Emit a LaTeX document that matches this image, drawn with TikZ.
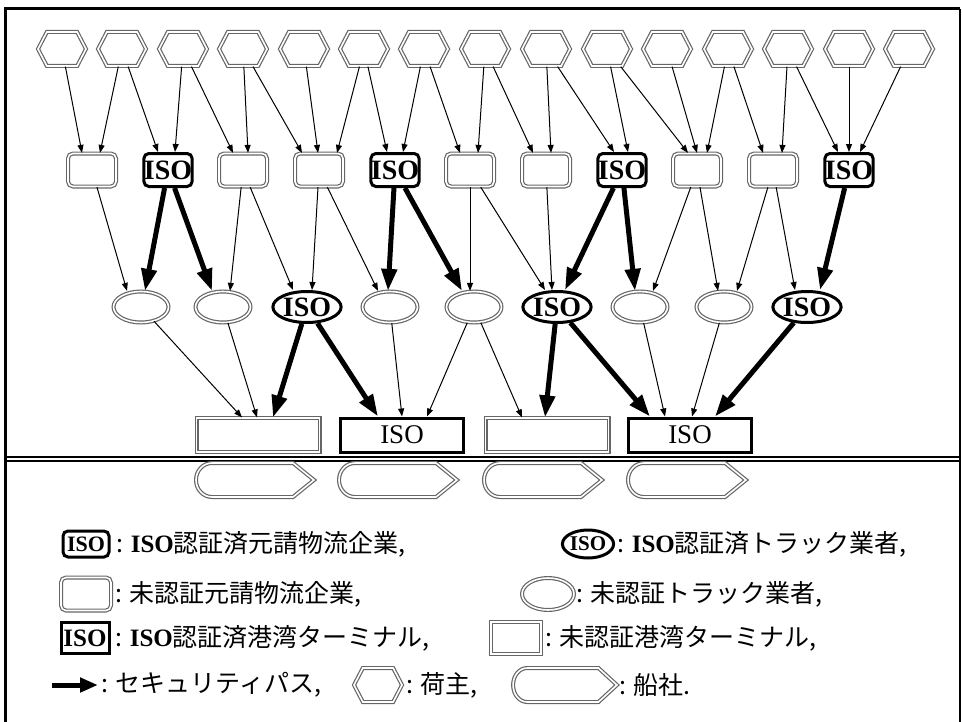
\documentclass[tikz,border=0pt]{standalone}
\usepackage{fontspec}
\setmainfont{Liberation Serif}
\newfontfamily\cjk{Noto Sans CJK JP}
\usetikzlibrary{arrows.meta,shapes.geometric,shapes.symbols}

\newlength{\du}
\setlength{\du}{0.5pt}

\definecolor{dialinecolor}{rgb}{0.40,0.40,0.40}

\tikzset{
  dbl/.style={draw=dialinecolor, line width=0.6pt, double=white, double distance=0.8pt},
  isoline/.style={draw=black, line width=1.5pt},
  shipper/.style={shape=signal, signal to=east and west, signal pointer angle=125,
    minimum width=48\du, minimum height=34\du, inner sep=0pt, dbl},
  forwarder/.style={rectangle, rounded corners=5\du, minimum width=48\du, minimum height=33\du,
    inner sep=0pt, font=\bfseries\fontsize{14}{15}\selectfont},
  trucker/.style={ellipse, minimum width=55\du, minimum height=31\du,
    inner sep=0pt, font=\bfseries\fontsize{14}{15}\selectfont},
  terminal/.style={rectangle, minimum width=123\du, minimum height=34\du,
    inner sep=0pt, font=\fontsize{13.5}{15}\selectfont},
  flow/.style={-{Triangle[length=4pt,width=3pt]}, line width=0.5pt},
  secpath/.style={-{Triangle[length=11pt,width=7.5pt]}, line width=2.5pt},
  legtext/.style={anchor=west, inner sep=0pt, font=\cjk\fontsize{12.5}{15}\selectfont},
  ship/.pic={
    \draw[dbl] (-43\du,-17\du) -- (38\du,-17\du) -- (59\du,0\du) -- (38\du,17\du) -- (-43\du,17\du)
      arc[start angle=90, end angle=270, x radius=16\du, y radius=17\du] -- cycle;
  }
}

\begin{document}
\begin{tikzpicture}
\pgftransformxscale{1.000000}
\pgftransformyscale{-1.000000}
\useasboundingbox (0\du,0\du) rectangle (963\du,722\du);

% frame
\draw[line width=3\du] (5\du,722\du) -- (5\du,9\du) -- (960\du,9\du);
\draw[line width=2\du] (960\du,9\du) -- (960\du,722\du);

% shippers
\node[shipper] (h1) at (62\du,49\du) {};
\node[shipper] (h2) at (122\du,49\du) {};
\node[shipper] (h3) at (183\du,49\du) {};
\node[shipper] (h4) at (243\du,49\du) {};
\node[shipper] (h5) at (304\du,49\du) {};
\node[shipper] (h6) at (364\du,49\du) {};
\node[shipper] (h7) at (424\du,49\du) {};
\node[shipper] (h8) at (485\du,49\du) {};
\node[shipper] (h9) at (546\du,49\du) {};
\node[shipper] (h10) at (607\du,49\du) {};
\node[shipper] (h11) at (667\du,49\du) {};
\node[shipper] (h12) at (728\du,49\du) {};
\node[shipper] (h13) at (788\du,49\du) {};
\node[shipper] (h14) at (849\du,49\du) {};
\node[shipper] (h15) at (909\du,49\du) {};

% forwarders
\node[forwarder, dbl] (b1) at (92\du,170\du) {};
\node[forwarder, isoline] (b2) at (168\du,170\du) {ISO};
\node[forwarder, dbl] (b3) at (243\du,170\du) {};
\node[forwarder, dbl] (b4) at (319\du,170\du) {};
\node[forwarder, isoline] (b5) at (395\du,170\du) {ISO};
\node[forwarder, dbl] (b6) at (470\du,170\du) {};
\node[forwarder, dbl] (b7) at (546\du,170\du) {};
\node[forwarder, isoline] (b8) at (622\du,170\du) {ISO};
\node[forwarder, dbl] (b9) at (697\du,170\du) {};
\node[forwarder, dbl] (b10) at (773\du,170\du) {};
\node[forwarder, isoline] (b11) at (849\du,170\du) {ISO};

% truckers
\node[trucker, dbl] (e1) at (141\du,307\du) {};
\node[trucker, dbl] (e2) at (223\du,307\du) {};
\node[trucker, isoline] (e3) at (307\du,307\du) {ISO};
\node[trucker, dbl] (e4) at (390\du,307\du) {};
\node[trucker, dbl] (e5) at (474\du,307\du) {};
\node[trucker, isoline] (e6) at (557\du,307\du) {ISO};
\node[trucker, dbl] (e7) at (640\du,307\du) {};
\node[trucker, dbl] (e8) at (724\du,307\du) {};
\node[trucker, isoline] (e9) at (807\du,307\du) {ISO};

% port terminals
\node[terminal, dbl] (t1) at (258\du,435\du) {};
\node[terminal, isoline] (t2) at (402\du,435\du) {ISO};
\node[terminal, dbl] (t3) at (547\du,435\du) {};
\node[terminal, isoline] (t4) at (690\du,435\du) {ISO};

% quay
\draw[line width=1.5\du] (5\du,457\du) -- (960\du,457\du);
\draw[line width=1.5\du] (5\du,461\du) -- (960\du,461\du);

% shipping lines
\pic (s1) at (255\du,480\du) {ship};
\pic (s2) at (398\du,480\du) {ship};
\pic (s3) at (543\du,480\du) {ship};
\pic (s4) at (687\du,480\du) {ship};

% shipper -> forwarder
\draw[flow] (h1) -- ([xshift=-10\du]b1.north);
\draw[flow] (h2) -- ([xshift=8\du]b1.north);
\draw[flow] (h2) -- ([xshift=-10\du]b2.north);
\draw[flow] (h3) -- ([xshift=7\du]b2.north);
\draw[flow] (h3) -- ([xshift=-10\du]b3.north);
\draw[flow] (h4) -- ([xshift=5\du]b3.north);
\draw[flow] (h4) -- ([xshift=-17\du]b4.north);
\draw[flow] (h5) -- ([xshift=-1\du]b4.north);
\draw[flow] (h6) -- ([xshift=18\du]b4.north);
\draw[flow] (h6) -- ([xshift=-8\du]b5.north);
\draw[flow] (h7) -- ([xshift=8\du]b5.north);
\draw[flow] (h7) -- ([xshift=-10\du]b6.north);
\draw[flow] (h8) -- ([xshift=8\du]b6.north);
\draw[flow] (h8) -- ([xshift=-13\du]b7.north);
\draw[flow] (h9) -- ([xshift=5\du]b7.north);
\draw[flow] (h9) -- ([xshift=-8\du]b8.north);
\draw[flow] (h10) -- ([xshift=6\du]b8.north);
\draw[flow] (h10) -- ([xshift=-9\du]b9.north);
\draw[flow] (h11) -- (b9.north);
\draw[flow] (h12) -- ([xshift=10\du]b9.north);
\draw[flow] (h12) -- ([xshift=-10\du]b10.north);
\draw[flow] (h13) -- ([xshift=9\du]b10.north);
\draw[flow] (h13) -- ([xshift=-11\du]b11.north);
\draw[flow] (h14) -- (b11.north);
\draw[flow] (h15) -- ([xshift=11\du]b11.north);

% forwarder -> trucker
\draw[flow] (b1) -- ([xshift=-14\du]e1.north);
\draw[secpath] (b2) -- ([xshift=4\du]e1.north);
\draw[secpath] (b2) -- ([xshift=-11\du]e2.north);
\draw[flow] (b3) -- ([xshift=7\du]e2.north);
\draw[flow] (b3) -- ([xshift=-14\du]e3.north);
\draw[flow] (b4) -- ([xshift=5\du]e3.north);
\draw[flow] (b4) -- ([xshift=-12\du]e4.north);
\draw[secpath] (b5) -- ([xshift=-2\du]e4.north);
\draw[secpath] (b5) -- ([xshift=-12\du]e5.north);
\draw[flow] (b6) -- ([xshift=-4\du]e5.north);
\draw[flow] (b6) -- ([xshift=-12\du]e6.north);
\draw[flow] (b7) -- ([xshift=-5\du]e6.north);
\draw[secpath] (b8) -- ([xshift=8\du]e6.north);
\draw[secpath] (b8) -- ([xshift=-5\du]e7.north);
\draw[flow] (b9) -- ([xshift=13\du]e7.north);
\draw[flow] (b9) -- ([xshift=-6\du]e8.north);
\draw[flow] (b10) -- ([xshift=13\du]e8.north);
\draw[flow] (b10) -- ([xshift=-12\du]e9.north);
\draw[secpath] (b11) -- ([xshift=13\du]e9.north);

% trucker -> terminal
\draw[flow] (e1) -- ([xshift=-16\du]t1.north);
\draw[flow] (e2) -- ([xshift=-1\du]t1.north);
\draw[secpath] (e3) -- ([xshift=15\du]t1.north);
\draw[secpath] (e3) -- ([xshift=-24\du]t2.north);
\draw[flow] (e4) -- (t2.north);
\draw[flow] (e5) -- ([xshift=25\du]t2.north);
\draw[flow] (e5) -- ([xshift=-25\du]t3.north);
\draw[secpath] (e6) -- ([xshift=-2\du]t3.north);
\draw[secpath] (e6) -- ([xshift=-40\du]t4.north);
\draw[flow] (e7) -- ([xshift=-25\du]t4.north);
\draw[flow] (e8) -- ([xshift=2\du]t4.north);
\draw[secpath] (e9) -- ([xshift=25\du]t4.north);

% legend
\node[forwarder, isoline, minimum width=46\du, minimum height=26\du, font=\bfseries\fontsize{11}{12}\selectfont] (lg1) at (86\du,544\du) {ISO};
\node[legtext] (lt1) at (116\du,544\du) {: {\rmfamily\bfseries ISO}認証済元請物流企業,};
\node[trucker, isoline, minimum width=50\du, minimum height=28\du, font=\bfseries\fontsize{10.5}{11}\selectfont] (lg2) at (588\du,544\du) {ISO};
\node[legtext] (lt2) at (617\du,544\du) {: {\rmfamily\bfseries ISO}認証済トラック業者,};
\node[forwarder, dbl, minimum width=50\du] (lg3) at (86\du,594\du) {};
\node[legtext] (lt3) at (115\du,594\du) {: 未認証元請物流企業,};
\node[trucker, dbl, minimum width=52\du, minimum height=32\du] (lg4) at (548\du,594\du) {};
\node[legtext] (lt4) at (576\du,594\du) {: 未認証トラック業者,};
\node[terminal, isoline, minimum width=48\du, minimum height=31\du, font=\bfseries\fontsize{12.5}{13}\selectfont] (lg5) at (85\du,638\du) {ISO};
\node[legtext] (lt5) at (115\du,638\du) {: {\rmfamily\bfseries ISO}認証済港湾ターミナル,};
\node[terminal, dbl, minimum width=50\du, minimum height=32\du] (lg6) at (516\du,638\du) {};
\node[legtext] (lt6) at (545\du,638\du) {: 未認証港湾ターミナル,};
\coordinate (la1) at (52\du,685\du);
\coordinate (la2) at (98\du,685\du);
\draw[secpath, -{Triangle[length=9pt,width=7pt]}] (la1) -- (la2);
\node[legtext] (lt7) at (101\du,685\du) {: セキュリティパス,};
\node[shipper] (lg8) at (378\du,685\du) {};
\node[legtext] (lt8) at (406\du,685\du) {: 荷主,};
\pic[xscale=0.88] (lg9) at (565\du,685\du) {ship};
\node[legtext] (lt9) at (619\du,685\du) {: 船社.};
\end{tikzpicture}
\end{document}
